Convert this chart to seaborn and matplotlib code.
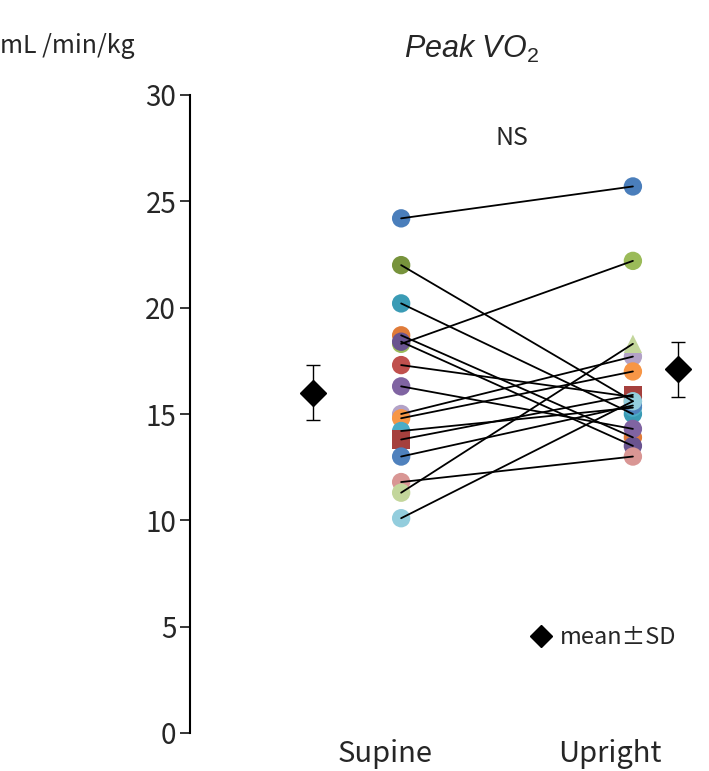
import matplotlib
matplotlib.use("Agg")
import matplotlib.pyplot as plt
from matplotlib.lines import Line2D
import pandas as pd
import seaborn as sns

# 各被験者の Peak VO2 (mL/min/kg), 図から読み取り
subjects = [f"S{i:02d}" for i in range(1, 17)]
supine = [24.2, 22.0, 20.2, 18.7, 18.3, 18.4, 17.3, 16.3,
          15.0, 14.8, 14.2, 13.8, 13.0, 11.8, 11.3, 10.1]
upright = [25.7, 15.6, 15.0, 13.9, 22.2, 13.5, 15.8, 14.3,
           17.7, 17.0, 15.3, 15.9, 15.4, 13.0, 18.3, 15.6]
colors = ["#4A7EBB", "#77933C", "#3A9BB5", "#E07B39", "#9BBB59", "#6A5490",
          "#C0504D", "#8064A2", "#B3A2C7", "#F79646", "#4BACC6", "#A5403D",
          "#4F81BD", "#D99694", "#C3D69B", "#93CDDD"]
supine_shapes = ["o"] * 11 + ["s"] + ["o"] * 4
upright_shapes = ["o"] * 11 + ["s"] + ["o"] * 2 + ["^"] + ["o"]

postures = ["Supine", "Upright"]
mean_vals = [16.0, 17.1]
sd_vals = [1.3, 1.3]

# レイアウト (x 位置)
pos = {"Supine": 0.41, "Upright": 0.86}
label_pos = {"Supine": 0.379, "Upright": 0.816}
mean_pos = {"Supine": 0.239, "Upright": 0.948}

df = pd.DataFrame({
    "subject": subjects * 2,
    "posture": ["Supine"] * 16 + ["Upright"] * 16,
    "value": supine + upright,
    "shape": supine_shapes + upright_shapes,
})
df["x"] = df["posture"].map(pos)

sns.set_style("white")
plt.rcParams["font.family"] = ["Noto Sans CJK JP", "DejaVu Sans"]
plt.rcParams["mathtext.fontset"] = "custom"
plt.rcParams["mathtext.rm"] = "Liberation Sans"
plt.rcParams["mathtext.it"] = "Liberation Sans:italic"

fig = plt.figure(figsize=(7.09, 7.71), dpi=100)
ax = fig.add_axes([190 / 709, 38 / 771, 515 / 709, 638 / 771])

sns.scatterplot(data=df, x="x", y="value", hue="subject", style="shape",
                palette=dict(zip(subjects, colors)),
                markers={"o": "o", "s": "s", "^": "^"},
                s=175, edgecolor="none", legend=False, ax=ax, zorder=2)
sns.lineplot(data=df, x="x", y="value", units="subject", estimator=None,
             color="black", lw=1.3, sort=False, legend=False, ax=ax, zorder=3)

for p, m, sd in zip(postures, mean_vals, sd_vals):
    ax.errorbar(mean_pos[p], m, yerr=sd, fmt="D", color="black", ms=13,
                elinewidth=1, capsize=5, capthick=1, zorder=4)

ax.set_xlim(0, 1)
ax.set_ylim(0, 30)
ax.set_yticks(range(0, 31, 5))
ax.set_xticks([label_pos[p] for p in postures])
ax.set_xticklabels(postures, fontsize=21)
ax.tick_params(axis="y", labelsize=20, length=7, width=1.3, direction="out",
               left=True, pad=3)
ax.tick_params(axis="x", length=0, pad=4)
ax.set_xlabel("")
ax.set_ylabel("")
for side in ["top", "right", "bottom"]:
    ax.spines[side].set_visible(False)
ax.spines["left"].set_linewidth(1.5)
ax.spines["left"].set_color("black")

ax.text(0.625, 28.0, "NS", fontsize=18, ha="center", va="center")

fig.text(0.0, 0.94, "mL /min/kg", fontsize=18, ha="left", va="center")
fig.text(0.665, 0.937, r"$\mathit{Peak\ VO_2}$", fontsize=22, ha="center",
         va="center")

handle = Line2D([], [], marker="D", ls="", color="black", ms=11)
ax.legend(handles=[handle], labels=["mean±SD"], loc="center right",
          bbox_to_anchor=(0.985, 0.15), frameon=False, fontsize=17,
          handletextpad=0.2, handlelength=1.2)

fig.savefig("out.png", dpi=100)
